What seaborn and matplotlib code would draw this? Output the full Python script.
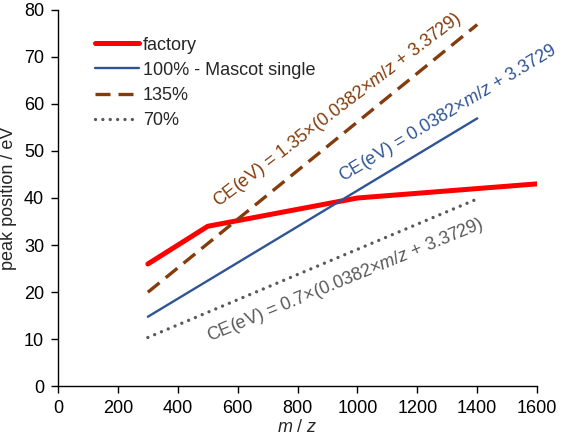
import numpy as np
import pandas as pd
import matplotlib
matplotlib.use('Agg')
import matplotlib.pyplot as plt
import seaborn as sns

# values
factory_mz = [300, 500, 1000, 1600]
factory_ev = [26.0, 34.0, 40.0, 43.0]

mascot_mz = [300, 1400]
mascot_ev = [14.8, 56.9]

ce135_mz = [300, 1400]
ce135_ev = [20.0, 76.8]

ce70_mz = [300, 1400]
ce70_ev = [10.4, 39.8]

sns.set_style('ticks')
plt.rcParams['font.family'] = ['Liberation Sans', 'DejaVu Sans']
plt.rcParams['mathtext.fontset'] = 'custom'
plt.rcParams['mathtext.rm'] = 'Liberation Sans'
plt.rcParams['mathtext.it'] = 'Liberation Sans:italic'

red = '#FF0000'
blue = '#2F5597'
brown = '#843C0C'
gray = '#595959'
fs = 13

fig = plt.figure(figsize=(5.66, 4.38), dpi=100)
ax = fig.add_axes([0.1025, 0.1176, 0.8465, 0.8607])

sns.lineplot(x=factory_mz, y=factory_ev, ax=ax, color=red, lw=3.6, label='factory')
sns.lineplot(x=mascot_mz, y=mascot_ev, ax=ax, color=blue, lw=1.7, label='100% - Mascot single')
sns.lineplot(x=ce135_mz, y=ce135_ev, ax=ax, color=brown, lw=2.4, label='135%')
ax.lines[-1].set_dashes([4.5, 2.4])
sns.lineplot(x=ce70_mz, y=ce70_ev, ax=ax, color=gray, lw=2.4, label='70%')
ax.lines[-1].set_dashes([0.01, 2.2])
ax.lines[-1].set_dash_capstyle('round')

ax.set_xlim(0, 1600)
ax.set_ylim(0, 80)
ax.set_xticks(range(0, 1601, 200))
ax.set_yticks(range(0, 81, 10))
ax.tick_params(labelsize=fs, length=5, width=1, pad=5, color='black', labelcolor='black')
for s in ['left', 'bottom']:
    ax.spines[s].set_color('black')
    ax.spines[s].set_linewidth(1)
sns.despine(ax=ax)

ax.set_xlabel('$m$ / $z$', fontsize=fs, labelpad=1)
ax.set_ylabel('peak position / eV', fontsize=fs, labelpad=5)

leg = ax.legend(loc='upper left', bbox_to_anchor=(0.077, 0.928), frameon=False,
                borderaxespad=0, borderpad=0,
                fontsize=fs, handlelength=2.45, handletextpad=0.2, labelspacing=0.45)

ax.text(535, 38, 'CE(eV) = 1.35×(0.0382×$m/z$ + 3.3729)', color=brown, fontsize=fs,
        rotation=37.5, rotation_mode='anchor', ha='left', va='baseline')
ax.text(950, 43.5, 'CE(eV) = 0.0382×$m/z$ + 3.3729', color=blue, fontsize=fs,
        rotation=31, rotation_mode='anchor', ha='left', va='baseline')
ax.text(505, 9.5, 'CE(eV) = 0.7×(0.0382×$m/z$ + 3.3729)', color=gray, fontsize=fs,
        rotation=22.5, rotation_mode='anchor', ha='left', va='baseline')

fig.savefig('out.png', dpi=100)
